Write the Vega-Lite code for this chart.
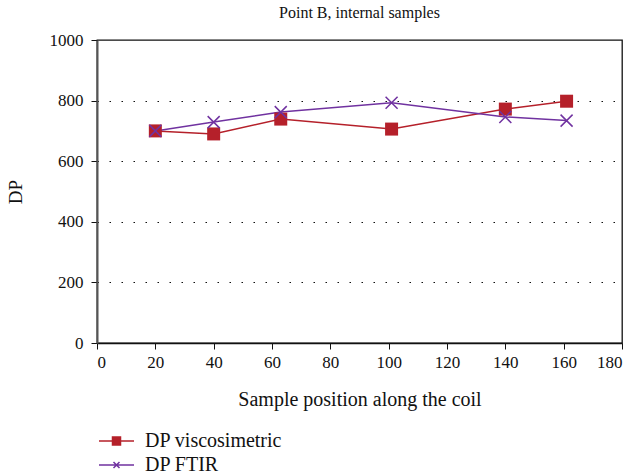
{
  "$schema": "https://vega.github.io/schema/vega-lite/v6.json",
  "autosize": {"type": "none"},
  "padding": {"left": 97, "top": 40, "right": 16, "bottom": 133},
  "width": 525,
  "height": 303,
  "background": "white",
  "title": {"text": "Point B, internal samples", "font": "Liberation Serif", "fontSize": 16, "fontWeight": "normal", "color": "#111", "offset": 10, "anchor": "middle"},
  "config": {
    "view": {"stroke": "#111", "strokeWidth": 1.3},
    "font": "Liberation Serif"
  },
  "data": {"values": [
    {"series": "DP viscosimetric", "pos": 20, "dp": 700},
    {"series": "DP viscosimetric", "pos": 40, "dp": 690},
    {"series": "DP viscosimetric", "pos": 63, "dp": 739},
    {"series": "DP viscosimetric", "pos": 101, "dp": 706},
    {"series": "DP viscosimetric", "pos": 140, "dp": 772},
    {"series": "DP viscosimetric", "pos": 161, "dp": 798},
    {"series": "DP FTIR", "pos": 20, "dp": 700},
    {"series": "DP FTIR", "pos": 40, "dp": 729},
    {"series": "DP FTIR", "pos": 63, "dp": 762},
    {"series": "DP FTIR", "pos": 101, "dp": 793},
    {"series": "DP FTIR", "pos": 140, "dp": 746},
    {"series": "DP FTIR", "pos": 161, "dp": 734}
  ]},
  "encoding": {
    "x": {"field": "pos", "type": "quantitative", "scale": {"domain": [0, 180], "nice": false},
      "axis": {"title": "Sample position along the coil", "values": [0,20,40,60,80,100,120,140,160,180], "grid": false,
        "domainColor": "#111", "domainWidth": 1.3, "tickColor": "#111", "tickSize": 6, "labelPadding": 5,
        "labelFont": "Liberation Serif", "labelFontSize": 17, "labelColor": "#111",
        "titleFont": "Liberation Serif", "titleFontSize": 20, "titleFontWeight": "normal", "titleColor": "#111", "titlePadding": 19}},
    "y": {"field": "dp", "type": "quantitative", "scale": {"domain": [0, 1000], "nice": false},
      "axis": {"title": "DP", "format": "d", "values": [0,200,400,600,800,1000], "grid": true,
        "gridColor": "#111", "gridDash": [1.5, 10.5], "gridWidth": 1.2,
        "gridOpacity": {"condition": {"test": "datum.value === 0 || datum.value === 1000", "value": 0}, "value": 1},
        "domainColor": "#555", "domainWidth": 2, "tickColor": "#111", "tickSize": 6, "labelPadding": 8,
        "labelFont": "Liberation Serif", "labelFontSize": 17, "labelColor": "#111",
        "titleFont": "Liberation Serif", "titleFontSize": 19, "titleFontWeight": "normal", "titleColor": "#111", "titlePadding": 24}}
  },
  "layer": [
    {
      "mark": {"type": "line", "strokeWidth": 1.5},
      "encoding": {
        "color": {"field": "series", "type": "nominal",
          "scale": {"domain": ["DP viscosimetric", "DP FTIR"], "range": ["#b5202a", "#7032a0"]},
          "legend": {"orient": "none", "legendX": 8.5, "legendY": 390, "title": null, "padding": 0,
            "direction": "vertical", "rowPadding": 3, "labelOffset": 17.5,
            "labelFont": "Liberation Serif", "labelFontSize": 20, "labelColor": "#111",
            "symbolType": "M-1.75,0H1.75", "symbolSize": 400, "symbolStrokeWidth": 1.5,
            "encode": {"symbols": {"update": {
              "shape": {"signal": "datum.value === 'DP viscosimetric' ? 'M-1.75,0H1.75M-0.4,-0.4H0.4V0.4H-0.4Z' : 'M-1.75,0H1.75M-0.3,-0.3L0.3,0.3M-0.3,0.3L0.3,-0.3'"},
              "fill": {"signal": "datum.value === 'DP viscosimetric' ? '#b5202a' : 'transparent'"},
              "stroke": {"signal": "datum.value === 'DP viscosimetric' ? '#b5202a' : '#7032a0'"},
              "fillOpacity": {"value": 1},
              "size": {"value": 400},
              "strokeWidth": {"value": 1.5}
            }}}}
        }
      }
    },
    {
      "transform": [{"filter": "datum.series === 'DP viscosimetric'"}],
      "mark": {"type": "point", "shape": "square", "filled": true, "size": 169, "color": "#b5202a", "opacity": 1}
    },
    {
      "transform": [{"filter": "datum.series === 'DP FTIR'"}],
      "mark": {"type": "point", "shape": "M-1,-1L1,1M-1,1L1,-1", "filled": false, "size": 144, "color": "#7032a0", "strokeWidth": 1.5, "opacity": 1}
    }
  ]
}
